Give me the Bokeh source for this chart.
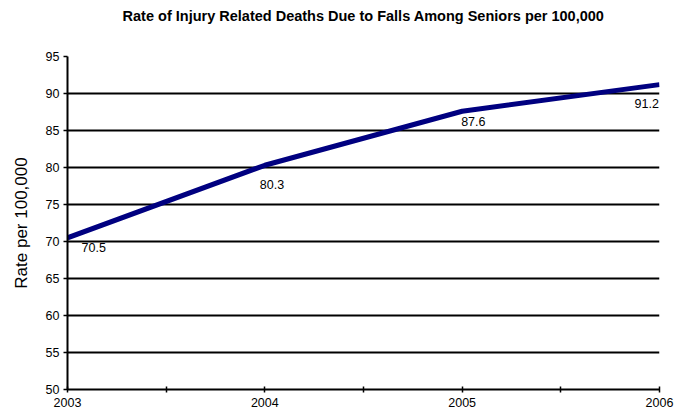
from bokeh.plotting import figure
from bokeh.models import FixedTicker, ColumnDataSource, Range1d, Title
from bokeh.core.properties import value
from bokeh.embed import file_html
from bokeh.resources import INLINE

years = [2003, 2004, 2005, 2006]
rates = [70.5, 80.3, 87.6, 91.2]
rate_labels = ["70.5", "80.3", "87.6", "91.2"]
y_ticks = [50, 55, 60, 65, 70, 75, 80, 85, 90, 95]
x_ticks = [2003, 2003.5, 2004, 2004.5, 2005, 2005.5, 2006]
title_text = "Rate of Injury Related Deaths Due to Falls Among Seniors per 100,000"
y_label_text = "Rate per 100,000"

FONT = "Liberation Sans"

p = figure(width=681, height=415, output_backend="svg", toolbar_location=None,
           x_range=Range1d(2003, 2006), y_range=Range1d(50, 95),
           min_border_left=67, min_border_right=22, min_border_top=56, min_border_bottom=26)

# spacer between title and plot frame, then the title itself (outermost)
p.add_layout(Title(text=" ", text_font_size="1px", standoff=25), "above")
p.add_layout(Title(text=title_text, align="center", text_font=FONT, text_font_size="14.5px",
                   text_font_style="bold", text_color="#000000", standoff=10), "above")

p.outline_line_color = None
p.xgrid.grid_line_color = None
p.ygrid.grid_line_color = "#000000"
p.ygrid.grid_line_width = 2
p.ygrid.grid_line_alpha = 1.0

p.yaxis.ticker = FixedTicker(ticks=y_ticks)
p.xaxis.ticker = FixedTicker(ticks=x_ticks)
p.xaxis.major_label_overrides = {t: (str(int(t)) if float(t).is_integer() else "") for t in x_ticks}
p.yaxis.major_label_overrides = {t: str(t) for t in y_ticks}

for ax in (p.xaxis[0], p.yaxis[0]):
    ax.axis_line_color = "#000000"
    ax.axis_line_width = 2
    ax.major_tick_line_color = "#000000"
    ax.major_tick_line_width = 1.5
    ax.minor_tick_line_color = None
    ax.major_label_text_font = FONT
    ax.major_label_text_font_size = "12.5px"
    ax.major_label_text_color = "#000000"

p.xaxis.major_tick_in = 3
p.xaxis.major_tick_out = 3
p.yaxis.major_tick_in = 0
p.yaxis.major_tick_out = 4
p.xaxis.major_label_standoff = 5
p.yaxis.major_label_standoff = 4

p.yaxis.axis_label = y_label_text
p.yaxis.axis_label_text_font = FONT
p.yaxis.axis_label_text_font_size = "17px"
p.yaxis.axis_label_text_font_style = "normal"
p.yaxis.axis_label_text_color = "#000000"
p.yaxis.axis_label_standoff = 12

src = ColumnDataSource(dict(x=years, y=rates))
p.line("x", "y", source=src, line_color="#000080", line_width=5)

lab = ColumnDataSource(dict(x=years, y=rates, t=rate_labels,
                            dx=[14, -5, -1, -25], dy=[5, 15, 6, 14]))
p.text("x", "y", text="t", source=lab, x_offset="dx", y_offset="dy",
       text_font=value(FONT), text_font_size="12.5px", text_color="#000000",
       text_baseline="top", text_align="left")

open("out.html", "w").write(file_html(p, INLINE))
